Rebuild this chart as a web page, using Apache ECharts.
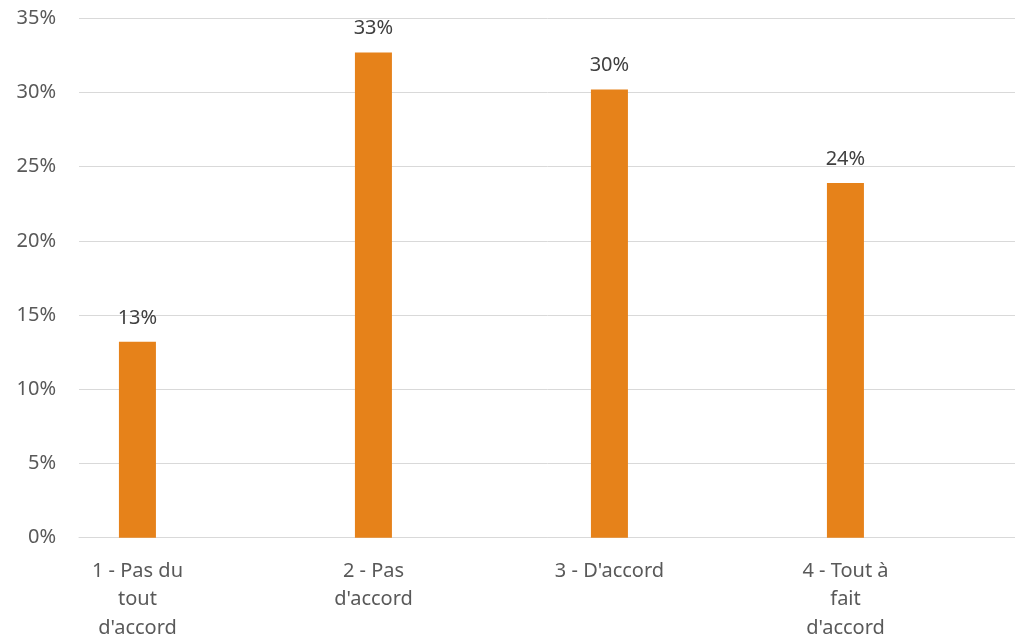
<!DOCTYPE html>
<html>
<head>
<meta charset="utf-8">
<script src="https://cdn.jsdelivr.net/npm/echarts@6/dist/echarts.min.js"></script>
<style>html,body{margin:0;padding:0;background:#fff}#c{width:1015px;height:640px}</style>
</head>
<body>
<div id="c"></div>
<script>
const categories = ["1 - Pas du\ntout\nd'accord", "2 - Pas\nd'accord", "3 - D'accord", "4 - Tout à\nfait\nd'accord"];
const values = [13.2, 32.7, 30.2, 23.9];
const yTicks = [0, 5, 10, 15, 20, 25, 30, 35];

const chart = echarts.init(document.getElementById('c'), null, {renderer: 'canvas'});
const font = '"Noto Sans", sans-serif';
chart.setOption({
  animation: false,
  backgroundColor: '#ffffff',
  grid: {left: 79, width: 944, top: 18.3, height: 519.4, containLabel: false, outerBoundsMode: 'none'},
  xAxis: {
    type: 'category',
    data: categories,
    axisLine: {show: true, lineStyle: {color: '#D9D9D9', width: 1}},
    axisTick: {show: false},
    axisLabel: {
      interval: 0,
      color: '#595959',
      fontFamily: font,
      fontSize: 20,
      lineHeight: 28.5,
      margin: 19,
      align: 'center',
      padding: [0, 119, 0, 0]
    }
  },
  yAxis: {
    type: 'value',
    min: yTicks[0],
    max: yTicks[yTicks.length - 1],
    interval: 5,
    axisLine: {show: false},
    axisTick: {show: false},
    splitLine: {lineStyle: {color: '#D9D9D9', width: 1}},
    axisLabel: {
      color: '#595959',
      fontFamily: font,
      fontSize: 20,
      margin: 23,
      formatter: v => v + '%'
    }
  },
  series: [
    {
      type: 'bar',
      data: values,
      barWidth: 37,
      barGap: '222%',
      itemStyle: {color: '#E6821A'},
      label: {
        show: true,
        position: 'top',
        distance: 14,
        color: '#404040',
        fontFamily: font,
        fontSize: 20,
        formatter: p => Math.round(p.value) + '%'
      }
    },
    {
      type: 'bar',
      data: values.map(() => '-'),
      barWidth: 37,
      silent: true
    }
  ]
});
</script>
</body>
</html>
